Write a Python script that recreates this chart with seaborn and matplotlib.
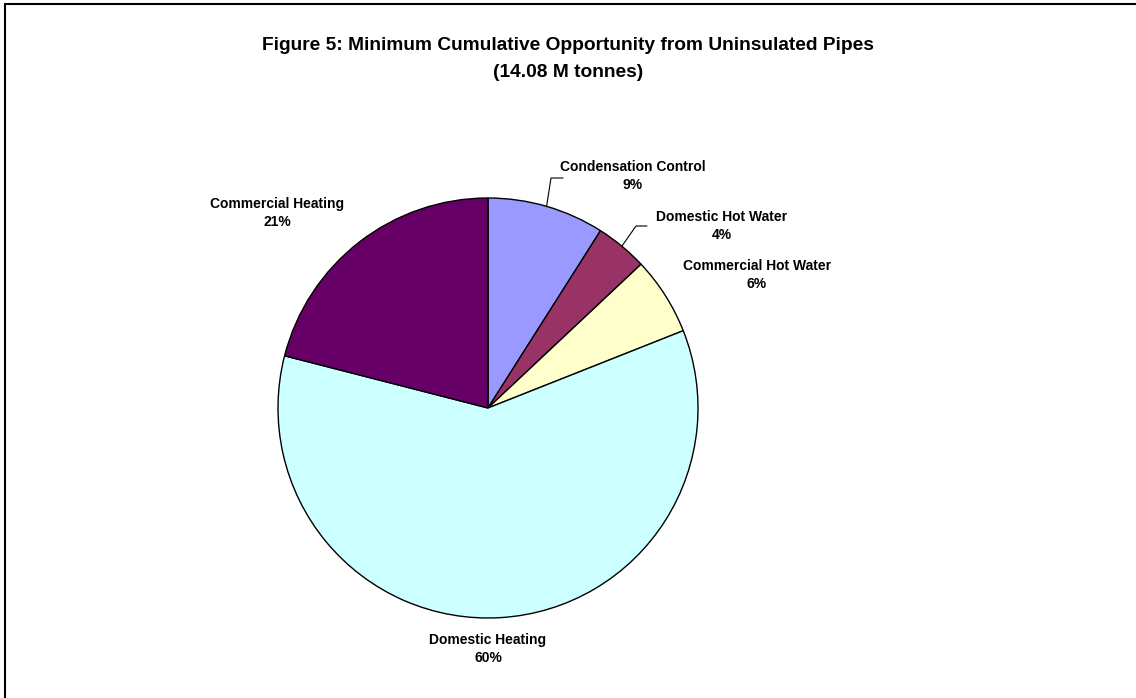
import numpy as np
import matplotlib.pyplot as plt
import seaborn as sns

sns.set_theme(style="white")
plt.rcParams['font.family'] = ['Liberation Sans', 'DejaVu Sans']
plt.rcParams['text.color'] = 'black'

# データ
categories = ["Condensation Control", "Domestic Hot Water", "Commercial Hot Water",
              "Domestic Heating", "Commercial Heating"]
shares = [9, 4, 6, 60, 21]
colors = ["#9999FF", "#993366", "#FFFFCC", "#CCFFFF", "#660066"]

title = "Figure 5: Minimum Cumulative Opportunity from Uninsulated Pipes\n(14.08 M tonnes)"

# レイアウト（ピクセル座標, y は上から）
W, H = 1136, 698
cx, cy, r = 488, 408, 210
label_pos = [(633, 176), (722, 226), (757, 275), (488, 649), (277, 213)]
# 引き出し線: (エルボー点, 水平線の終点)
leaders = {0: ((551, 178), (563, 178)), 1: ((636, 226), (647, 226))}

fig = plt.figure(figsize=(W / 100, H / 100), dpi=100)
ax = fig.add_axes([0, 0, 1, 1])

wedges, _ = ax.pie(shares, colors=colors, startangle=90, counterclock=False,
                   center=(cx, H - cy), radius=r,
                   wedgeprops=dict(edgecolor="black", linewidth=1.0), frame=True)
ax.set_xlim(0, W)
ax.set_ylim(0, H)
ax.set_aspect("equal")
ax.axis("off")

for i, (name, v) in enumerate(zip(categories, shares)):
    x, y = label_pos[i]
    ax.text(x, H - y, f"{name}\n{v}%", ha="center", va="center", fontsize=10,
            fontweight="bold", color="black", linespacing=1.45)

# 引き出し線
for i, (elbow, end) in leaders.items():
    w = wedges[i]
    ang = np.deg2rad((w.theta1 + w.theta2) / 2)
    px = cx + r * np.cos(ang)
    py = (H - cy) + r * np.sin(ang)
    ax.plot([px, elbow[0], end[0]], [py, H - elbow[1], H - end[1]],
            color="black", linewidth=0.8)

fig.text(568 / W, 1 - 59 / H, title, ha="center", va="center", fontsize=13.8,
         fontweight="bold", color="black", linespacing=1.75)

# 枠線（左と上）
ax.plot([5, 5], [0, H - 4], color="black", linewidth=1.5)
ax.plot([5, W], [H - 4, H - 4], color="black", linewidth=1.5)

fig.savefig("out.png", dpi=100)
plt.close(fig)
